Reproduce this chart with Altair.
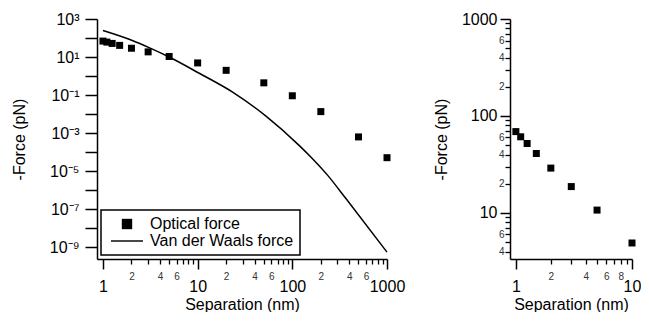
import altair as alt
import pandas as pd

# ---- data ----
opt_sep = [1, 1.1, 1.25, 1.5, 2, 3, 5, 10, 20, 50, 100, 200, 500, 1000]
opt_force = [69, 61, 52, 41, 29, 18.7, 10.7, 4.9, 2.0, 0.44, 0.092, 0.0135, 6.3e-4, 5.1e-5]
vdw_sep = [1.0, 2.04, 3.07, 5.0, 10.4, 23.4, 52.7, 118.6, 157.7, 236.5, 370, 1000]
vdw_force = [247, 74, 31.2, 10, 1.4, 0.143, 0.0078, 2.2e-4, 5.4e-5, 6.0e-6, 3.5e-7, 5.5e-10]
series_names = ["Optical force", "Van der Waals force"]
x_title = "Separation (nm)"
y_title = "-Force (pN)"

left_x_dom = [0.865, 1000]
left_y_dom = [2.4e-10, 1000]
right_x_dom = [0.89, 10]
right_y_dom = [3.35, 1000]

left_x_major = [1, 10, 100, 1000]
left_x_minor = [m * 10 ** e for e in range(3) for m in range(2, 10)]
left_y_major = [10.0 ** e for e in range(3, -10, -1)]
right_x_major = [1, 10]
right_x_minor = [2, 3, 4, 5, 6, 7, 8, 9]
right_y_major = [10, 100, 1000]
right_y_minor = [4, 5, 6, 7, 8, 9] + [m * 10 for m in range(2, 10)] + [m * 100 for m in range(2, 10)]

opt_df = pd.DataFrame({"sep": opt_sep, "force": opt_force, "series": series_names[0]})
vdw_df = pd.DataFrame({"sep": vdw_sep, "force": vdw_force, "series": series_names[1]})
zoom_df = opt_df[opt_df["sep"] <= 10]

FONT = "Liberation Sans"
LOG = "(log(datum.value)/LN10)"
MANT = f"round(datum.value / pow(10, floor({LOG} + 1e-6)))"

H = 240
WL, WR = 290, 122


def minor_expr(labeled):
    c = " || ".join(f"{MANT} == {m}" for m in labeled)
    return f"({c}) ? ('' + {MANT}) : ''"


SUP = "['⁰','¹','²','³','⁴','⁵','⁶','⁷','⁸','⁹']"
ylab_left = (f"(round({LOG}) % 2 != 0) ? ('10' + (datum.value < 1 ? '⁻' : '') + "
             f"{SUP}[abs(round({LOG}))]) : ''")

base_axis = dict(
    labelFont=FONT, titleFont=FONT, titleFontSize=16, titleFontWeight="normal",
    titleColor="black", domainColor="black", domainWidth=1.5, tickColor="black",
    grid=False, labelColor="black", labelOverlap=False, labelFlush=False, ticks=True,
)


def major_axis(orient, values, tick, pad, expr, title, title_pad):
    return alt.Axis(orient=orient, values=values, tickSize=tick, tickWidth=1.5,
                    labelPadding=pad, labelFontSize=16, labelExpr=expr, title=title,
                    titlePadding=title_pad, domain=True, **base_axis)


def minor_axis(orient, values, tick, pad, expr):
    ax = dict(base_axis)
    ax["labelColor"] = "#333333"
    return alt.Axis(orient=orient, values=values, tickSize=tick, tickWidth=1.3,
                    labelPadding=pad, labelFontSize=10, labelExpr=expr, title=None,
                    domain=False, **ax)


def logscale(dom):
    return alt.Scale(type="log", domain=dom, nice=False, zero=False)


square_path = "M-0.65,-0.65H0.65V0.65H-0.65Z"
line_path = "M-2,-0.09H2V0.09H-2Z"
shape_enc = alt.Shape(
    "series:N",
    scale=alt.Scale(domain=series_names, range=[square_path, line_path]),
    legend=alt.Legend(title=None, orient="none", legendX=4, legendY=191,
                      symbolSize=256, symbolFillColor="black", symbolStrokeWidth=0,
                      symbolOffset=12, labelFont=FONT, labelFontSize=16,
                      labelColor="black", labelOffset=15, padding=6, rowPadding=1,
                      strokeColor="black", fillColor="white"),
)

# ---- left panel ----
lx = logscale(left_x_dom)
ly = logscale(left_y_dom)
left_points = alt.Chart(opt_df).mark_point(
    filled=True, color="black", size=116, opacity=1
).encode(
    x=alt.X("sep:Q", scale=lx, axis=major_axis("bottom", left_x_major, 10, 9,
                                               "'' + datum.value", x_title, 2)),
    y=alt.Y("force:Q", scale=ly, axis=major_axis("left", left_y_major, 12, 6,
                                                 ylab_left, y_title, 22)),
    shape=shape_enc,
)
left_line = alt.Chart(vdw_df).mark_line(color="black", strokeWidth=1.5,
                                        interpolate="monotone").encode(
    x=alt.X("sep:Q", scale=lx, axis=None), y=alt.Y("force:Q", scale=ly, axis=None))
left_minor = alt.Chart(opt_df).mark_point(opacity=0).encode(
    x=alt.X("sep:Q", scale=lx, axis=minor_axis("bottom", left_x_minor, 5, 7, minor_expr([2, 4, 6]))),
    y=alt.Y("force:Q", scale=ly, axis=None),
)
left = alt.layer(left_line, left_points, left_minor).resolve_axis(
    x="independent", y="independent").properties(width=WL, height=H)

# ---- right panel ----
rx = logscale(right_x_dom)
ry = logscale(right_y_dom)
right_points = alt.Chart(zoom_df).mark_point(
    filled=True, color="black", size=116, opacity=1, shape=square_path
).encode(
    x=alt.X("sep:Q", scale=rx, axis=major_axis("bottom", right_x_major, 10, 9,
                                               "'' + datum.value", x_title, 2)),
    y=alt.Y("force:Q", scale=ry, axis=major_axis("left", right_y_major, 10, 3,
                                                 "'' + datum.value", y_title, 12)),
)
right_minor = alt.Chart(zoom_df).mark_point(opacity=0).encode(
    x=alt.X("sep:Q", scale=rx, axis=minor_axis("bottom", right_x_minor, 5, 7,
                                                minor_expr([2, 4, 6, 8]))),
    y=alt.Y("force:Q", scale=ry, axis=minor_axis("left", right_y_minor, 5, 1,
                                                 minor_expr([2, 4, 6]))),
)
right = alt.layer(right_points, right_minor).resolve_axis(
    x="independent", y="independent").properties(width=WR, height=H)

chart = alt.hconcat(left, right, spacing=28).properties(
    padding={"left": 3, "top": 3, "right": 0, "bottom": 0}
).configure_view(strokeWidth=0).configure_legend(strokeWidth=1.5)

chart.save("out.html", embed_options={"renderer": "svg", "actions": False})
